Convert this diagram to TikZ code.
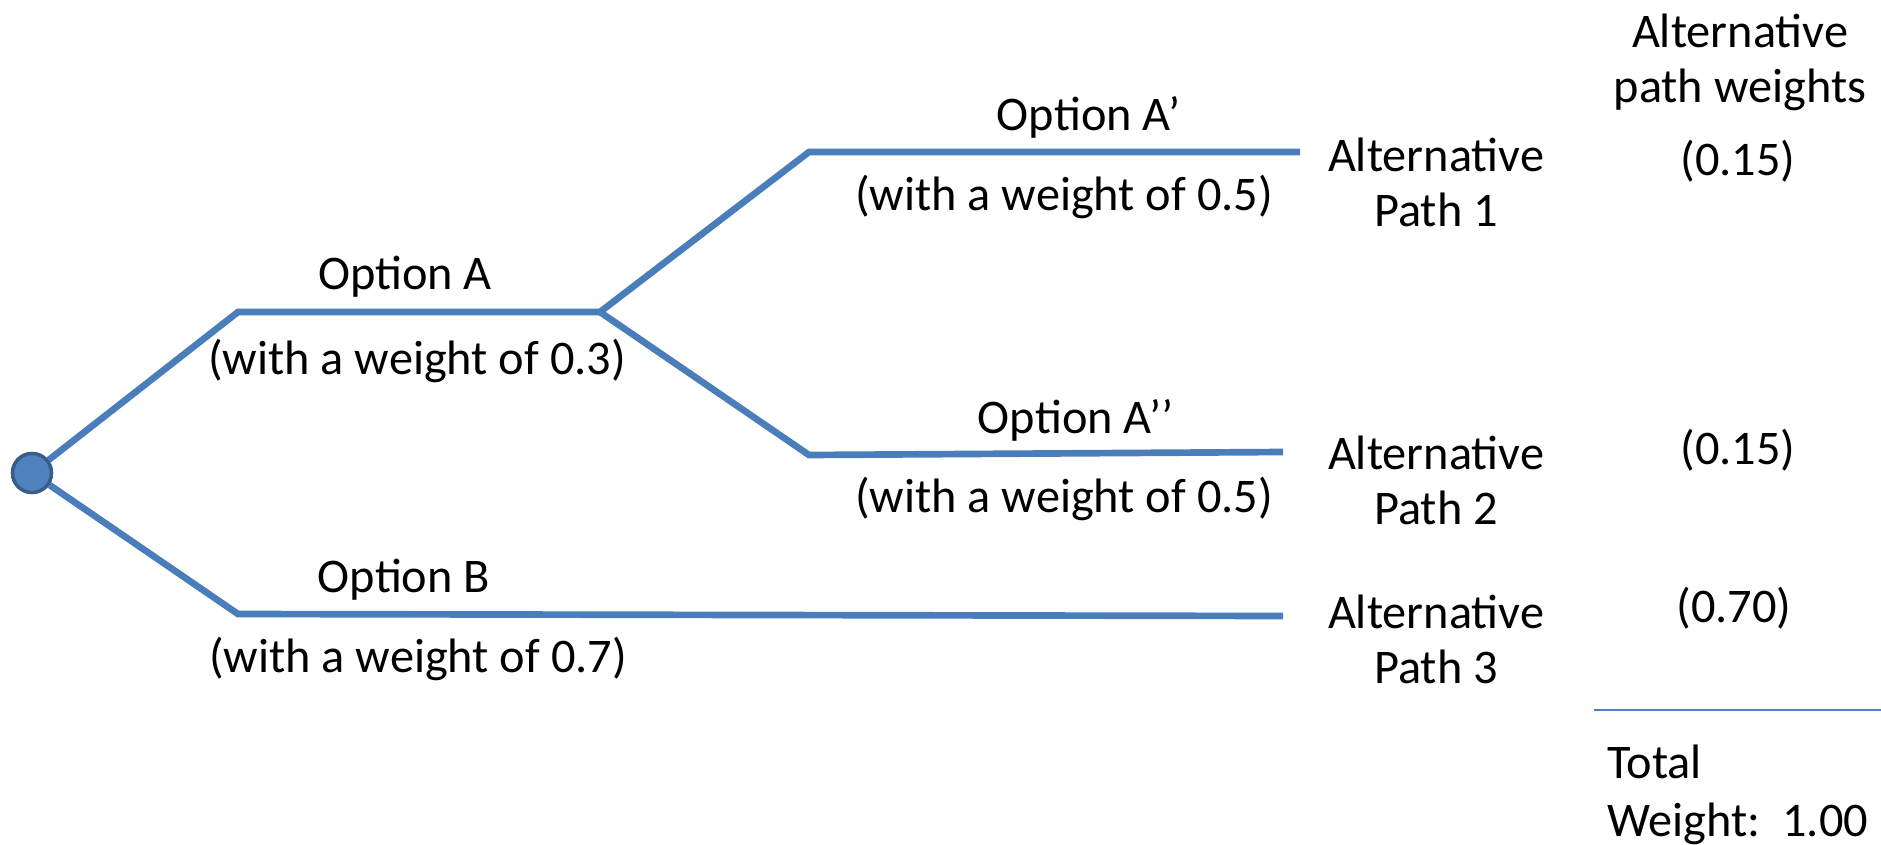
\documentclass[tikz,border=0pt]{standalone}
\usepackage{fontspec}
\setmainfont{Carlito}
\definecolor{lineblue}{HTML}{4A7EBB}
\definecolor{nodefill}{HTML}{4F81BD}
\definecolor{nodeedge}{HTML}{385D8A}
\begin{document}
\begin{tikzpicture}[x=0.02cm,y=-0.02cm,
  branch/.style={draw=lineblue,line width=3.8pt,line join=miter},
  lbl/.style={inner sep=0pt,anchor=base,font=\fontsize{27.5}{31.3}\selectfont},
  mlbl/.style={inner sep=0pt,anchor=center,align=center,font=\fontsize{27.5}{31.3}\selectfont},
  rootnode/.style={circle,fill=nodefill,draw=nodeedge,line width=1.9pt,minimum size=0.78cm,inner sep=0pt}]
\useasboundingbox (0,0) rectangle (1881,845);
% tree
\node[rootnode] (root) at (32,473) {};
\coordinate (a0) at (238,312);
\coordinate (a1) at (600,312);
\coordinate (ap0) at (809,152);
\coordinate (ap1) at (1300,152);
\coordinate (app0) at (809,455);
\coordinate (app1) at (1283,452);
\coordinate (b0) at (238,614);
\coordinate (b1) at (1283,616);
\draw[branch] (root) -- (a0) -- (a1) -- (ap0) -- (ap1);
\draw[branch] (a1) -- (app0) -- (app1);
\draw[branch] (root) -- (b0) -- (b1);
\node[rootnode] at (root) {};
% branch labels
\node[lbl] (la) at (405,289) {Option A};
\node[lbl] (lwa) at (417,374) {(with a weight of 0.3)};
\node[lbl] (lap) at (1089,130) {Option A’};
\node[lbl] (lwap) at (1064,210) {(with a weight of 0.5)};
\node[lbl] (lapp) at (1076,433) {Option A’’};
\node[lbl] (lwapp) at (1064,512) {(with a weight of 0.5)};
\node[lbl] (lb) at (404,592) {Option B};
\node[lbl] (lwb) at (418,672) {(with a weight of 0.7)};
% path names
\node[mlbl] (p1) at (1436,182) {Alternative\\Path 1};
\node[mlbl] (p2) at (1436,480) {Alternative\\Path 2};
\node[mlbl] (p3) at (1436,639) {Alternative\\Path 3};
% weights column
\node[mlbl] (hdr) at (1740,62) {Alternative\\ path weights};
\node[lbl] (w1) at (1738,175) {(0.15)};
\node[lbl] (w2) at (1738,464) {(0.15)};
\node[lbl] (w3) at (1734,622) {(0.70)};
\coordinate (r0) at (1594,710);
\coordinate (r1) at (1881,710);
\draw[draw=nodefill,line width=1.1pt] (r0) -- (r1);
\node[lbl,anchor=base west] (tot) at (1607,778) {Total};
\node[lbl,anchor=base west] (totw) at (1607,836) {Weight:\ \ 1.00};
\end{tikzpicture}
\end{document}
